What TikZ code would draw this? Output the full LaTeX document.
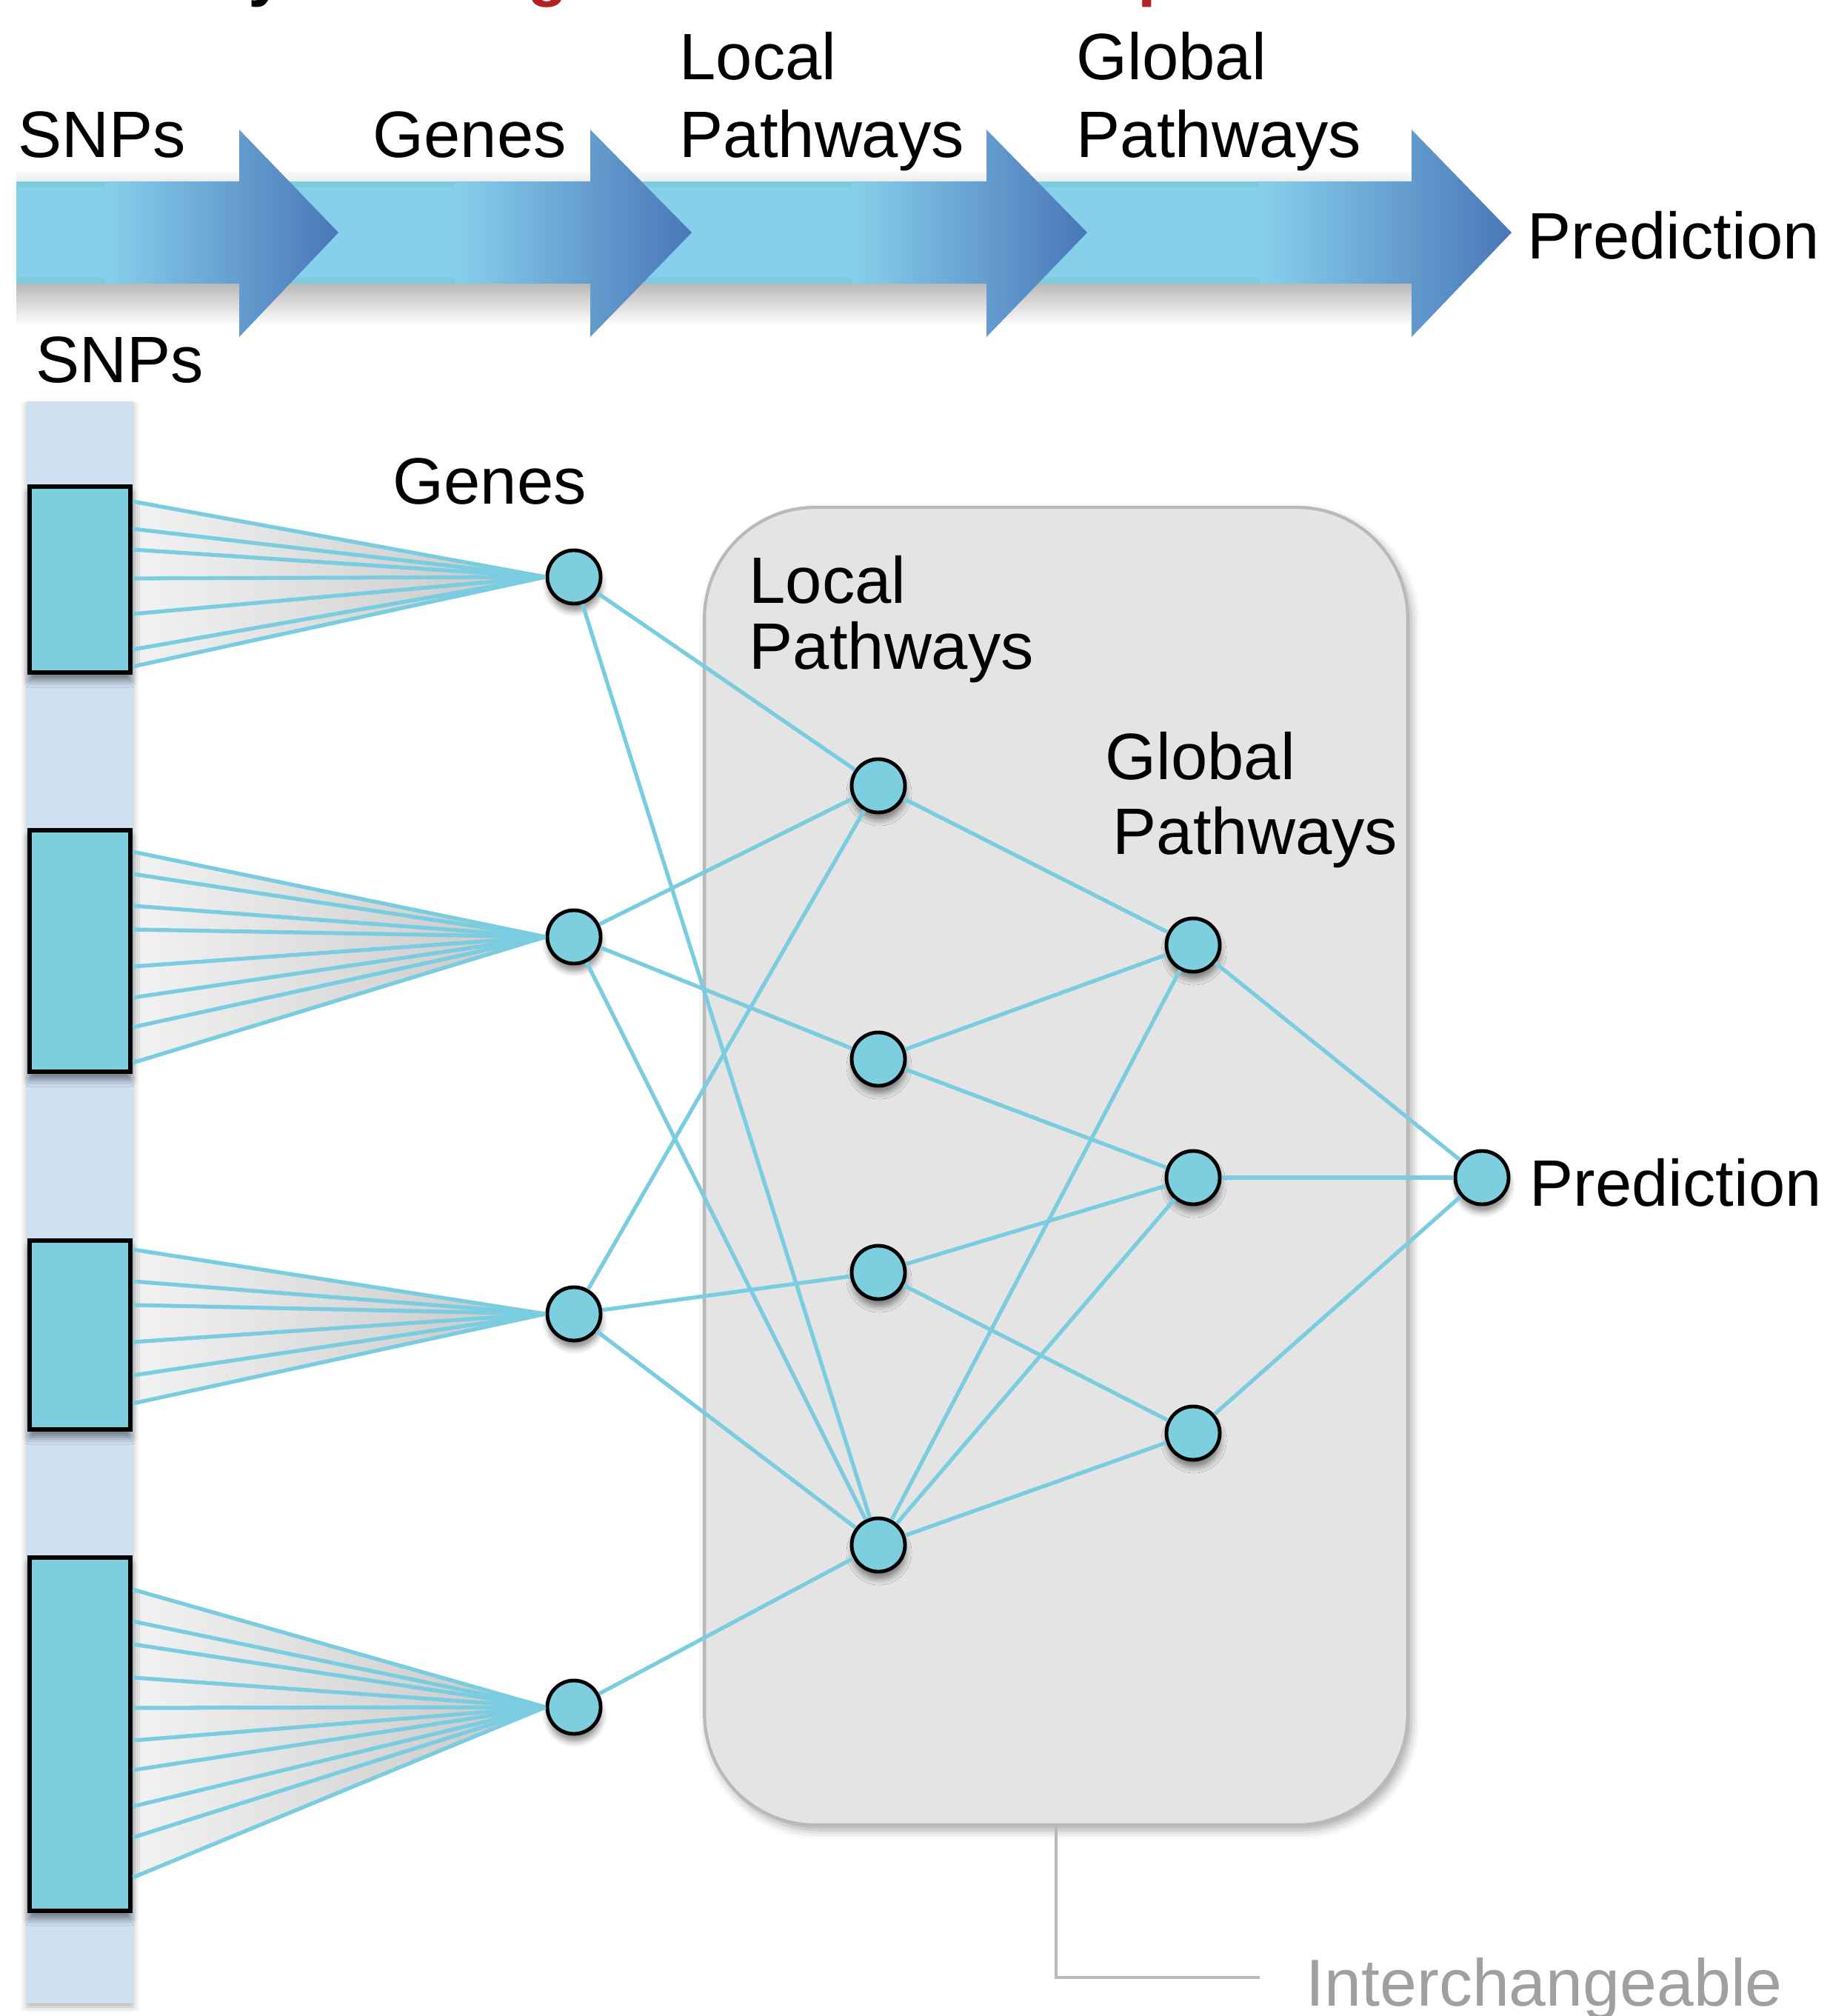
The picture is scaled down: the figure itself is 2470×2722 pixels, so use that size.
\documentclass[tikz,border=0pt]{standalone}
\usepackage{fontspec}
\setmainfont{Liberation Sans}
\usetikzlibrary{positioning, shadows.blur, backgrounds}

\definecolor{nodecol}{RGB}{125,207,224}
\definecolor{edgecol}{RGB}{122,204,224}
\definecolor{barcol}{RGB}{207,225,241}
\definecolor{panelcol}{RGB}{228,228,228}
\definecolor{panelline}{RGB}{185,185,185}
\definecolor{bandlight}{RGB}{135,208,236}
\definecolor{bandedge}{RGB}{124,204,222}
\definecolor{banddark}{RGB}{74,118,184}
\definecolor{titlered}{RGB}{178,34,34}
\definecolor{notegray}{RGB}{160,160,160}

\begin{document}
\begin{tikzpicture}[x=0.01cm, y=-0.01cm,
        font=\fontsize{25.2}{30}\selectfont,
        lbl/.style = {inner sep=0, anchor=base west, align=left},
        gene/.style = {draw, circle, fill=nodecol, line width=1.4pt,
                        minimum size=0.72cm, inner sep=0,
                        blur shadow={shadow xshift=0.01cm, shadow yshift=-0.1cm,
                        shadow blur radius=0.08cm, shadow opacity=45}},
        snpblock/.style = {draw, fill=nodecol, line width=1.8pt,
                        minimum width=1.36cm, inner sep=0,
                        blur shadow={shadow xshift=0cm, shadow yshift=-0.1cm,
                        shadow blur radius=0.1cm, shadow opacity=50}},
        bar/.style = {fill=barcol, minimum width=1.44cm, minimum height=21.61cm,
                        inner sep=0, blur shadow={shadow xshift=0cm, shadow yshift=-0.05cm,
                        shadow blur radius=0.08cm, shadow opacity=30}},
        panel/.style = {draw=panelline, line width=1.2pt, fill=panelcol,
                        rounded corners=1.5cm, minimum width=9.49cm, minimum height=17.78cm,
                        blur shadow={shadow xshift=0.05cm, shadow yshift=-0.07cm,
                        shadow blur radius=0.12cm, shadow opacity=35}},
        edge/.style = {edgecol, line width=1.5pt},
        fan/.style = {left color=gray!10, right color=gray!45},
        bracket/.style = {draw=panelline, line width=1.4pt},
    ]
        \useasboundingbox (0,0) rectangle (2470,2722);

        % title, cut off by the page
        \node[lbl, font=\fontsize{25.2}{30}\selectfont\bfseries] (frag1) at (335,-8) {y};
        \node[lbl, text=titlered, font=\fontsize{25.2}{30}\selectfont\bfseries] (frag2) at (712,-8) {g};
        \node[lbl, text=titlered, font=\fontsize{25.2}{30}\selectfont\bfseries] (frag3) at (1536,-8) {p};

        % arrow band
        \shade[top color=gray!55, bottom color=white] (22,383) rectangle (1906,440);
        \shade[top color=white, bottom color=gray!15] (22,228) rectangle (1906,245);
        \foreach \s/\g/\b/\t in {1332/1701/1906/2041, 797/1150/1332/1468,
                                 323/614/797/934, 22/142/323/457} {
            \fill[bandlight] (\s,245) rectangle (\g,383);
            \fill[bandedge] (\s,245) rectangle (\g,253);
            \fill[bandedge] (\s,375) rectangle (\g,383);
            \shade[left color=bandlight, right color=banddark] (\g,245) -- (\b,245)
                -- (\b,175) -- (\t,314) -- (\b,455) -- (\b,383) -- (\g,383) -- cycle;
        }

        \node[lbl] (snpstop) at (24,213) {SNPs};
        \node[lbl] (genestop) at (503,213) {Genes};
        \node[lbl] (localtop) at (917,213) {Local\\Pathways};
        \node[lbl] (globaltop) at (1453,213) {Global\\Pathways};
        \node[lbl] (predtop) at (2062,350) {Prediction};

        % network
        \node[panel] (panel) at (1426,1574.5) {};
        \node[bar] (bar) at (108,1623.5) {};

        \node[snpblock, minimum height=2.51cm] (b1) at (108,782.5) {};
        \node[snpblock, minimum height=3.26cm] (b2) at (108,1284) {};
        \node[snpblock, minimum height=2.55cm] (b3) at (108,1802.5) {};
        \node[snpblock, minimum height=4.77cm] (b4) at (108,2341.5) {};

        \node[gene] (g1) at (775,779) {};
        \node[gene] (g2) at (775,1265) {};
        \node[gene] (g3) at (775,1774) {};
        \node[gene] (g4) at (775,2305) {};

        \node[gene] (l1) at (1186,1061) {};
        \node[gene] (l2) at (1186,1430) {};
        \node[gene] (l3) at (1186,1718) {};
        \node[gene] (l4) at (1186,2086) {};

        \node[gene] (p1) at (1611,1276) {};
        \node[gene] (p2) at (1611,1590) {};
        \node[gene] (p3) at (1611,1935) {};

        \node[gene] (pred) at (2001,1590) {};

        \node[lbl] (snps) at (48,517) {SNPs};
        \node[lbl] (genes) at (530,681) {Genes};
        \node[lbl, font=\fontsize{25.2}{25.3}\selectfont] (local) at (1011,903) {Local\\Pathways};
        \node[lbl, font=\fontsize{25.2}{28.5}\selectfont] (global) at (1492,1153) {Global\\\hspace{0.1cm}Pathways};
        \node[lbl] (predlbl) at (2065,1628) {Prediction};
        \node[lbl, text=notegray, font=\fontsize{25.5}{30}\selectfont] (inter) at (1763,2708) {Interchangeable};

        % SNPs to genes
        \begin{scope}[on background layer]
            \shade[fan] (b1.east |- 0,677) -- (g1.west) -- (b1.east |- 0,900) -- cycle;
            \shade[fan] (b2.east |- 0,1150) -- (g2.west) -- (b2.east |- 0,1435) -- cycle;
            \shade[fan] (b3.east |- 0,1687) -- (g3.west) -- (b3.east |- 0,1895) -- cycle;
            \shade[fan] (b4.east |- 0,2146) -- (g4.west) -- (b4.east |- 0,2535) -- cycle;
        \end{scope}
        \foreach \y in {677,714,742,781,829,877,900}
            \draw[edge] (b1.east |- 0,\y) -- (g1.west);
        \foreach \y in {1150,1180,1223,1255,1305,1347,1387,1435}
            \draw[edge] (b2.east |- 0,\y) -- (g2.west);
        \foreach \y in {1687,1730,1762,1812,1857,1895}
            \draw[edge] (b3.east |- 0,\y) -- (g3.west);
        \foreach \y in {2146,2189,2220,2265,2306,2350,2390,2439,2481,2535}
            \draw[edge] (b4.east |- 0,\y) -- (g4.west);

        % genes, pathways, prediction
        \foreach \a/\b in {g1/l1, g1/l4, g2/l1, g2/l2, g2/l4, g3/l1, g3/l3, g3/l4, g4/l4,
                           l1/p1, l2/p1, l2/p2, l3/p2, l3/p3, l4/p1, l4/p2, l4/p3,
                           p1/pred, p2/pred, p3/pred}
            \draw[edge] (\a) -- (\b);

        \coordinate (brkend) at (1701,2670);
        \draw[bracket] (panel.south) |- (brkend);
    \end{tikzpicture}
\end{document}
